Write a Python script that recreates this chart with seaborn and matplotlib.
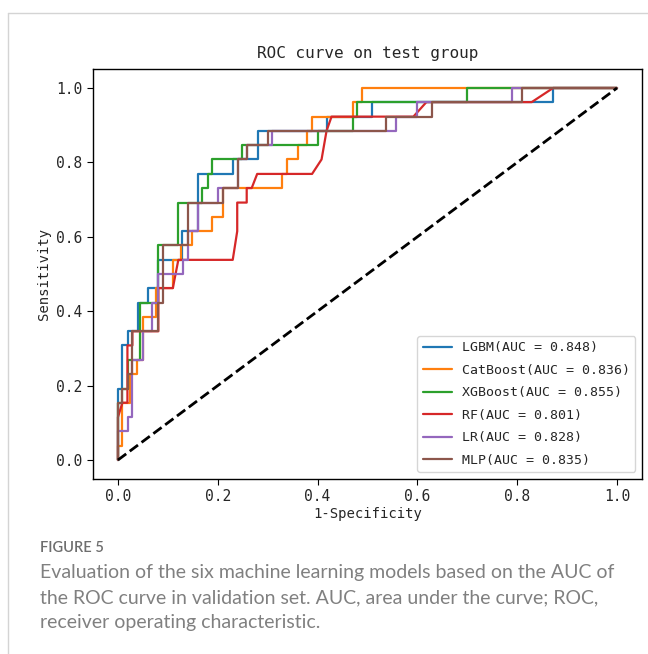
import matplotlib
matplotlib.use("Agg")
import matplotlib.pyplot as plt
import seaborn as sns
from matplotlib.lines import Line2D

# ROC points (1-specificity, sensitivity)
lgbm_fpr = [0, 0, 0.009, 0.009, 0.021, 0.021, 0.041, 0.041, 0.061, 0.061, 0.080, 0.080, 0.129, 0.129,
            0.161, 0.161, 0.230, 0.230, 0.281, 0.281, 0.419, 0.419, 0.510, 0.510, 0.871, 0.871, 1]
lgbm_tpr = [0, 0.192, 0.192, 0.308, 0.308, 0.346, 0.346, 0.423, 0.423, 0.462, 0.462, 0.538, 0.538, 0.615,
            0.615, 0.769, 0.769, 0.808, 0.808, 0.885, 0.885, 0.923, 0.923, 0.962, 0.962, 1, 1]

cat_fpr = [0, 0, 0.009, 0.009, 0.025, 0.025, 0.039, 0.039, 0.051, 0.051, 0.077, 0.077, 0.110, 0.110,
           0.126, 0.126, 0.149, 0.149, 0.188, 0.188, 0.210, 0.210, 0.328, 0.328, 0.339, 0.339, 0.360, 0.360,
           0.379, 0.379, 0.388, 0.388, 0.470, 0.470, 0.490, 0.490, 1]
cat_tpr = [0, 0.038, 0.038, 0.154, 0.154, 0.231, 0.231, 0.269, 0.269, 0.385, 0.385, 0.462, 0.462, 0.538,
           0.538, 0.577, 0.577, 0.615, 0.615, 0.654, 0.654, 0.731, 0.731, 0.769, 0.769, 0.808, 0.808, 0.846,
           0.846, 0.885, 0.885, 0.923, 0.923, 0.962, 0.962, 1, 1]

xgb_fpr = [0, 0, 0.009, 0.009, 0.021, 0.021, 0.045, 0.045, 0.080, 0.080, 0.121, 0.121, 0.168, 0.168,
           0.180, 0.180, 0.189, 0.189, 0.248, 0.248, 0.400, 0.400, 0.470, 0.470, 0.480, 0.480, 0.699, 0.699, 1]
xgb_tpr = [0, 0.154, 0.154, 0.192, 0.192, 0.269, 0.269, 0.423, 0.423, 0.577, 0.577, 0.692, 0.692, 0.731,
           0.731, 0.769, 0.769, 0.808, 0.808, 0.846, 0.846, 0.885, 0.885, 0.923, 0.923, 0.962, 0.962, 1, 1]

rf_fpr = [0, 0, 0.009, 0.019, 0.019, 0.029, 0.029, 0.081, 0.081, 0.110, 0.121, 0.230, 0.239, 0.239,
          0.258, 0.258, 0.268, 0.279, 0.389, 0.408, 0.418, 0.428, 0.592, 0.618, 0.829, 0.872, 1]
rf_tpr = [0, 0.115, 0.154, 0.154, 0.308, 0.308, 0.346, 0.346, 0.462, 0.462, 0.538, 0.538, 0.615, 0.692,
          0.692, 0.731, 0.731, 0.769, 0.769, 0.808, 0.885, 0.923, 0.923, 0.962, 0.962, 1, 1]

lr_fpr = [0, 0, 0.021, 0.021, 0.029, 0.029, 0.051, 0.051, 0.069, 0.069, 0.081, 0.081, 0.131, 0.131,
          0.141, 0.141, 0.161, 0.161, 0.201, 0.201, 0.241, 0.241, 0.258, 0.258, 0.308, 0.308, 0.558, 0.558,
          0.599, 0.599, 0.789, 0.789, 1]
lr_tpr = [0, 0.077, 0.077, 0.115, 0.115, 0.269, 0.269, 0.346, 0.346, 0.423, 0.423, 0.5, 0.5, 0.538,
          0.538, 0.615, 0.615, 0.692, 0.692, 0.731, 0.731, 0.808, 0.808, 0.846, 0.846, 0.885, 0.885, 0.923,
          0.923, 0.962, 0.962, 1, 1]

mlp_fpr = [0, 0, 0.009, 0.009, 0.021, 0.021, 0.029, 0.029, 0.081, 0.081, 0.091, 0.091, 0.141, 0.141,
           0.210, 0.210, 0.241, 0.241, 0.258, 0.258, 0.301, 0.301, 0.538, 0.538, 0.630, 0.630, 0.809, 0.809, 1]
mlp_tpr = [0, 0.154, 0.154, 0.192, 0.192, 0.231, 0.231, 0.346, 0.346, 0.423, 0.423, 0.577, 0.577, 0.692,
           0.692, 0.731, 0.731, 0.808, 0.808, 0.846, 0.846, 0.885, 0.885, 0.923, 0.923, 0.962, 0.962, 1, 1]

model_names = ["LGBM", "CatBoost", "XGBoost", "RF", "LR", "MLP"]
auc_values = [0.848, 0.836, 0.855, 0.801, 0.828, 0.835]
curves = [(lgbm_fpr, lgbm_tpr), (cat_fpr, cat_tpr), (xgb_fpr, xgb_tpr),
          (rf_fpr, rf_tpr), (lr_fpr, lr_tpr), (mlp_fpr, mlp_tpr)]

sns.set_style("ticks")
plt.rcParams['font.family'] = ['DejaVu Sans Mono', 'DejaVu Sans']

fig = plt.figure(figsize=(6.48, 6.54), dpi=100)
ax = fig.add_axes([0.1435, 0.2682, 0.8472, 0.6257])

colors = sns.color_palette("tab10", 6)
for (fpr, tpr), name, auc, c in zip(curves, model_names, auc_values, colors):
    sns.lineplot(x=fpr, y=tpr, sort=False, estimator=None, ax=ax, color=c, linewidth=1.6,
                 label=f"{name}(AUC = {auc:.3f})")

# chance line
ax.plot([0, 1], [0, 1], color="black", linestyle="--", linewidth=2)

ax.set_xlim(-0.05, 1.05)
ax.set_ylim(-0.05, 1.05)
ax.set_xticks([0, 0.2, 0.4, 0.6, 0.8, 1.0])
ax.set_yticks([0, 0.2, 0.4, 0.6, 0.8, 1.0])
ax.tick_params(labelsize=10.5, length=4, color="black")
for s in ax.spines.values():
    s.set_color("black")
    s.set_linewidth(1.0)

ax.set_title("ROC curve on test group", fontsize=11.5, pad=8)
ax.set_xlabel("1-Specificity", fontsize=10, labelpad=2)
ax.set_ylabel("Sensitivity", fontsize=10, labelpad=4)
ax.legend(loc="lower right", fontsize=9.5, frameon=True, handlelength=2.2, labelspacing=0.72)

# page border and caption
fig.add_artist(Line2D([8 / 648, 1], [1 - 13 / 654, 1 - 13 / 654], color="#d4d4d4", lw=1))
fig.add_artist(Line2D([8 / 648, 8 / 648], [0, 1 - 13 / 654], color="#d4d4d4", lw=1))

fig.text(40 / 648, 1 - 548 / 654, "FIGURE 5", fontsize=10.5, color="#6e6e6e",
         family=["Lato", "DejaVu Sans"], fontweight="semibold", va="center")
caption = ("Evaluation of the six machine learning models based on the AUC of\n"
           "the ROC curve in validation set. AUC, area under the curve; ROC,\n"
           "receiver operating characteristic.")
fig.text(40 / 648, 1 - 564 / 654, caption, fontsize=14, color="#808080",
         family=["Lato", "DejaVu Sans"], va="top", linespacing=1.57)

fig.savefig("out.png", dpi=100)
